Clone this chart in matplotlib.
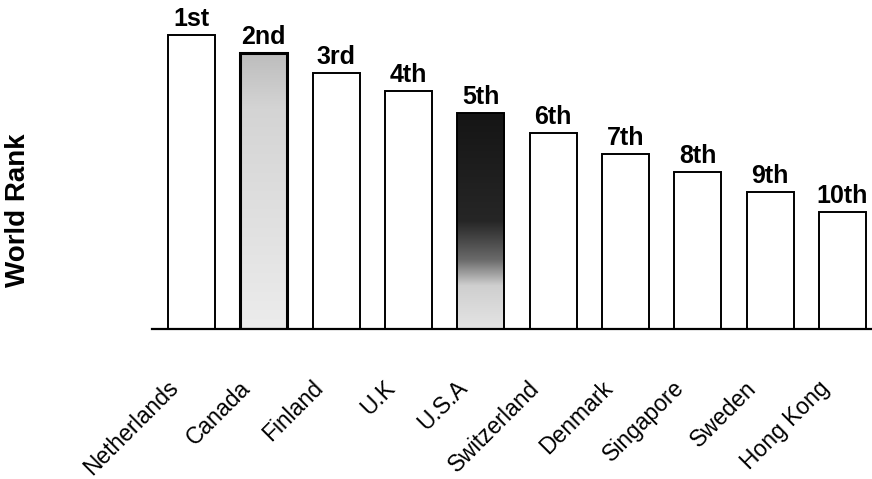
import numpy as np
import matplotlib
matplotlib.use("Agg")
import matplotlib.pyplot as plt
import matplotlib.transforms as mtransforms
from matplotlib.colors import LinearSegmentedColormap

plt.rcParams['font.family'] = ['Liberation Sans', 'DejaVu Sans']

countries = ["Netherlands", "Canada", "Finland", "U.K", "U.S.A",
             "Switzerland", "Denmark", "Singapore", "Sweden", "Hong Kong"]
rank_labels = ["1st", "2nd", "3rd", "4th", "5th",
               "6th", "7th", "8th", "9th", "10th"]
scores = [294, 276, 256, 238, 216, 196, 175, 157, 137, 117]

fig = plt.figure(figsize=(8.72, 4.79), dpi=100)
ax = fig.add_axes([152 / 872, 150 / 479, 720 / 872, 329 / 479])

x = np.arange(len(countries))
bar_w = 0.65
bars = ax.bar(x, scores, width=bar_w, color="white", edgecolor="black",
              linewidth=1.4, zorder=2)

# shaded fills for Canada (light) and USA (dark fading to light)
light = LinearSegmentedColormap.from_list(
    "light", [(0.0, "#bdbdbd"), (0.2, "#d4d4d4"), (1.0, "#ececec")])
dark = LinearSegmentedColormap.from_list(
    "dark", [(0.0, "#151515"), (0.5, "#262626"), (0.68, "#6a6a6a"),
             (0.8, "#cfcfcf"), (1.0, "#e4e4e4")])
for idx, cmap in [(1, light), (4, dark)]:
    b = bars[idx]
    grad = np.linspace(0, 1, 256).reshape(-1, 1)
    im = ax.imshow(grad, cmap=cmap, aspect="auto", zorder=2.5,
                   extent=(b.get_x(), b.get_x() + b.get_width(), 0, b.get_height()),
                   origin="upper")
    im.set_clip_path(b)
    b.set_zorder(3)
    b.set_facecolor("none")
bars[1].set_linewidth(2.2)

for xi, s, lab in zip(x, scores, rank_labels):
    ax.annotate(lab, (xi, s), xytext=(0, 3), textcoords="offset points",
                ha="center", va="bottom", fontsize=18, fontweight="bold")

ax.set_xlim(-0.546, 9.41)
ax.set_ylim(0, 329)
ax.set_xticks([])
ax.set_yticks([])
for side in ["top", "right", "left"]:
    ax.spines[side].set_visible(False)
ax.spines["bottom"].set_linewidth(1.6)

# slanted country names under the axis
for xi, name in zip(x, countries):
    off = mtransforms.offset_copy(ax.transData, fig=fig, x=-12, y=-40, units="points")
    ax.text(xi, 0, name, transform=off, rotation=45, rotation_mode="anchor",
            ha="right", va="center", fontsize=16.5, clip_on=False)

fig.text(18 / 872, 1 - 210 / 479, "World Rank", rotation=90, ha="center",
         va="center", fontsize=20, fontweight="bold")

fig.savefig("out.png", dpi=100)
